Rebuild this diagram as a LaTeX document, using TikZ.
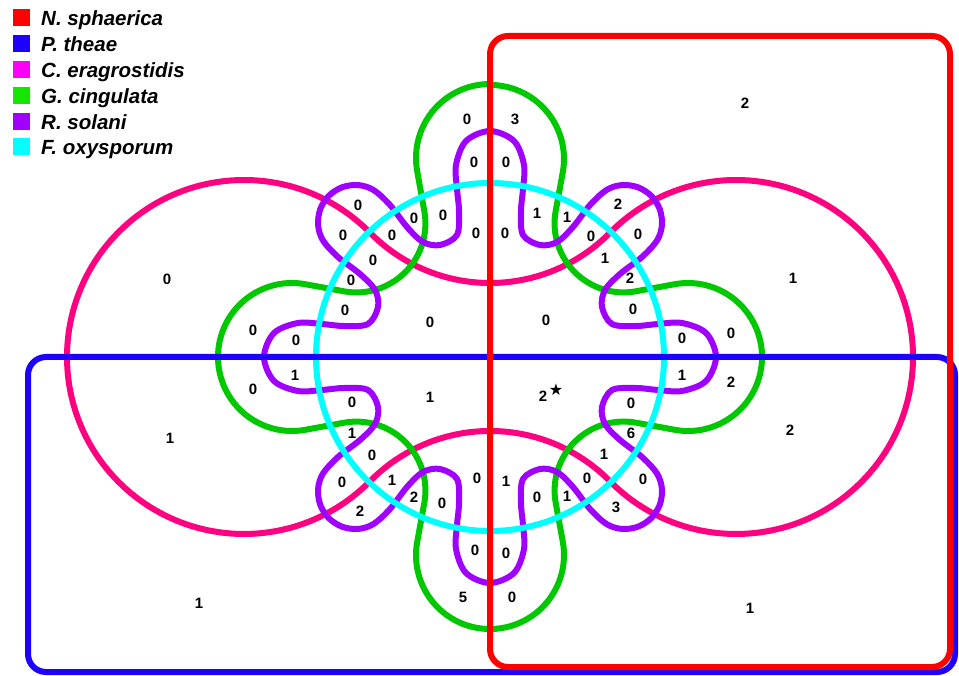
\documentclass[tikz,border=0pt]{standalone}
\usepackage{fontspec}
\setmainfont{Liberation Sans}
\newfontfamily\symfont{DejaVu Sans}
\definecolor{cN}{RGB}{255,0,0}
\definecolor{cP}{RGB}{30,0,255}
\definecolor{cC}{RGB}{255,0,128}
\definecolor{cCleg}{RGB}{255,0,255}
\definecolor{cG}{RGB}{0,200,0}
\definecolor{cGleg}{RGB}{20,230,0}
\definecolor{cR}{RGB}{160,0,255}
\definecolor{cF}{RGB}{0,255,255}
\begin{document}
\begin{tikzpicture}[x=1pt,y=1pt,
  setline/.style={line width=6pt, line join=round},
  num/.style={font=\fontsize{15}{15}\selectfont\bfseries, inner sep=0pt},
  legsq/.style={minimum size=17pt, inner sep=0pt, draw=none},
  legtxt/.style={font=\fontsize{20.5}{20.5}\selectfont\bfseries\itshape, anchor=base west, inner sep=0pt}]
\useasboundingbox (0,0) rectangle (959,-676);

\begin{scope}[shift={(490,-357)}]
% C. eragrostidis
\draw[setline, cC] (-119.9,124.2) arc[start angle=44.56, end angle=315.44, radius=177]
  arc[start angle=135.44, end angle=44.56, radius=168.3]
  arc[start angle=224.56, end angle=495.44, radius=177]
  arc[start angle=315.44, end angle=224.56, radius=168.3] -- cycle;
% G. cingulata
\draw[setline, cG] (0,273) arc[start angle=90, end angle=190.3, radius=74]
 -- (-65.7,145.9) arc[start angle=10.3, end angle=-100.3, radius=69]
 -- (-184.8,72.8) arc[start angle=79.7, end angle=280.3, radius=74]
 -- (-145.9,-65.7) arc[start angle=100.3, end angle=-10.3, radius=69]
 -- (-72.8,-184.8) arc[start angle=169.7, end angle=370.3, radius=74]
 -- (65.7,-145.9) arc[start angle=190.3, end angle=79.7, radius=69]
 -- (184.8,-72.8) arc[start angle=259.7, end angle=460.3, radius=74]
 -- (145.9,65.7) arc[start angle=280.3, end angle=169.7, radius=69]
 -- (72.8,184.8) arc[start angle=-10.3, end angle=90, radius=74] -- cycle;
% R. solani
\draw[setline, cR] plot[smooth cycle, tension=0.55] coordinates {
 (0,226) (-24,216) (-34,192) (-33,168) (-31,146) (-33,122) (-50,112) (-67,115) (-83,130) (-100,152)
 (-116.5,167) (-131.8,171.9) (-147.7,169.8) (-161.2,161.2) (-169.8,147.7) (-171.9,131.8) (-167,116.5)
 (-152,100) (-130,83) (-115,67) (-112,50) (-122,33) (-146,31) (-168,33) (-192,34) (-216,24)
 (-226,0) (-216,-24) (-192,-34) (-168,-33) (-146,-31) (-122,-33) (-112,-50) (-115,-67) (-130,-83) (-152,-100)
 (-167,-116.5) (-171.9,-131.8) (-169.8,-147.7) (-161.2,-161.2) (-147.7,-169.8) (-131.8,-171.9) (-116.5,-167)
 (-100,-152) (-83,-130) (-67,-115) (-50,-112) (-33,-122) (-31,-146) (-33,-168) (-34,-192) (-24,-216)
 (0,-226) (24,-216) (34,-192) (33,-168) (31,-146) (33,-122) (50,-112) (67,-115) (83,-130) (100,-152)
 (116.5,-167) (131.8,-171.9) (147.7,-169.8) (161.2,-161.2) (169.8,-147.7) (171.9,-131.8) (167,-116.5)
 (152,-100) (130,-83) (115,-67) (112,-50) (122,-33) (146,-31) (168,-33) (192,-34) (216,-24)
 (226,0) (216,24) (192,34) (168,33) (146,31) (122,33) (112,50) (115,67) (130,83) (152,100)
 (167,116.5) (171.9,131.8) (169.8,147.7) (161.2,161.2) (147.7,169.8) (131.8,171.9) (116.5,167)
 (100,152) (83,130) (67,115) (50,112) (33,122) (31,146) (33,168) (34,192) (24,216)};
% F. oxysporum
\draw[setline, cF] (0,0) circle[radius=174];
\end{scope}

% P. theae
\draw[setline, cP, rounded corners=18] (28,-357) rectangle (955,-672);
% N. sphaerica
\draw[setline, cN, rounded corners=18] (490,-36) rectangle (950,-667);

% counts
\foreach \x/\y/\t [count=\i] in {
 745/103/2, 167/279/0, 793/278/1, 170/438/1, 790/430/2, 199/603/1, 750/608/1,
 467/119/0, 515/119/3, 474/162/0, 506/162/0, 476/233/0, 505/233/0,
 358/205/0, 343/235/0, 392/235/0, 414/218/0, 443/215/0, 373/260/0, 351/280/0, 345/310/0,
 537/213/1, 567/217/1, 618/204/2, 591/236/0, 638/234/0, 605/258/1, 630/278/2,
 253/330/0, 296/340/0, 295/375/1, 253/389/0, 352/402/0, 352/433/1, 430/322/0, 430/397/1,
 546/320/0, 633/309/0, 682/338/0, 731/333/0, 682/375/1, 731/382/2, 543/396/2,
 631/403/0, 631/433/6, 372/455/0, 342/482/0, 392/480/1, 414/497/2, 442/503/0, 360/511/2,
 477/478/0, 506/481/1, 537/497/0, 567/496/1, 587/478/0, 604/454/1, 643/479/0, 616/507/3,
 475/550/0, 506/553/0, 463/597/5, 512/597/0}
 \node[num] (n\i) at (\x,-\y) {\t};
\node[inner sep=0pt, font=\symfont\fontsize{16}{16}\selectfont] (star) at (556,-390) {★};

% legend
\foreach \c/\t [count=\i] in {cN/N. sphaerica, cP/P. theae, cCleg/C. eragrostidis, cGleg/G. cingulata, cR/R. solani, cF/F. oxysporum}{
  \node[legsq, fill=\c] (sq\i) at (21.5,{-18-25.8*(\i-1)}) {};
  \node[legtxt] (lt\i) at (41,{-26-25.8*(\i-1)}) {\t};
}
\end{tikzpicture}
\end{document}
